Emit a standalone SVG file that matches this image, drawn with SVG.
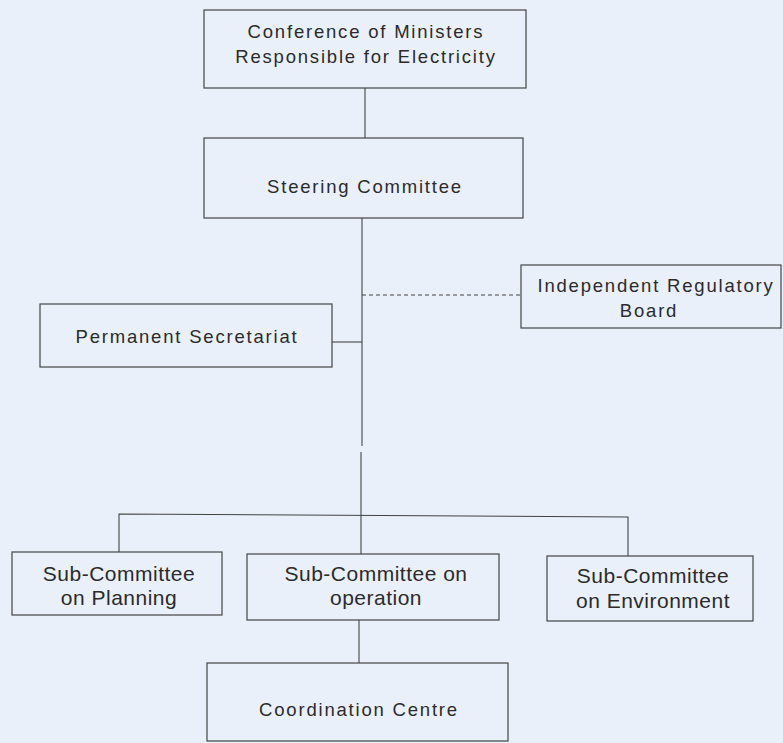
<svg xmlns="http://www.w3.org/2000/svg" width="783" height="743" viewBox="0 0 783 743">
  <style>
    .box { fill: none; stroke: #444; stroke-width: 1.2; }
    .link { fill: none; stroke: #444; stroke-width: 1.1; }
    .dash { stroke-dasharray: 4 3; }
    .lbl { font-family: "Liberation Sans", Arial, sans-serif; font-size: 18.5px; fill: #2b2b2b; text-anchor: middle; letter-spacing: 1.8px; }
    .sub { font-family: "Liberation Sans", Arial, sans-serif; font-size: 21px; fill: #2b2b2b; text-anchor: middle; letter-spacing: 0.5px; }
  </style>
  <rect width="783" height="743" fill="#e9f0fa"/>

  <g id="connectors">
    <line class="link" x1="365" y1="88" x2="365" y2="138"/>
    <line class="link" x1="362" y1="218" x2="362" y2="446"/>
    <line class="link" x1="361" y1="452" x2="361" y2="554"/>
    <line class="link dash" x1="362" y1="295" x2="521" y2="295"/>
    <line class="link" x1="332" y1="342" x2="362" y2="342"/>
    <polyline class="link" points="119,552 119,514 628,517 628,556"/>
    <line class="link" x1="359" y1="620" x2="359" y2="663"/>
  </g>

  <g id="ministers">
    <rect class="box" x="204" y="10" width="322" height="78"/>
    <text class="lbl" x="366" y="38">Conference of Ministers</text>
    <text class="lbl" x="366" y="63">Responsible for Electricity</text>
  </g>

  <g id="steering">
    <rect class="box" x="204" y="138" width="319" height="80"/>
    <text class="lbl" x="365" y="193">Steering Committee</text>
  </g>

  <g id="secretariat">
    <rect class="box" x="40" y="304" width="292" height="63"/>
    <text class="lbl" x="187" y="343">Permanent Secretariat</text>
  </g>

  <g id="regulatory">
    <rect class="box" x="521" y="265" width="260" height="63"/>
    <text class="lbl" x="656" y="292">Independent Regulatory</text>
    <text class="lbl" x="649" y="317">Board</text>
  </g>

  <g id="planning">
    <rect class="box" x="12" y="552" width="210" height="63"/>
    <text class="sub" x="119" y="581">Sub-Committee</text>
    <text class="sub" x="119" y="605">on Planning</text>
  </g>

  <g id="operation">
    <rect class="box" x="247" y="554" width="252" height="66"/>
    <text class="sub" x="376" y="581">Sub-Committee on</text>
    <text class="sub" x="376" y="605">operation</text>
  </g>

  <g id="environment">
    <rect class="box" x="547" y="556" width="206" height="65"/>
    <text class="sub" x="653" y="583">Sub-Committee</text>
    <text class="sub" x="653" y="608">on Environment</text>
  </g>

  <g id="coordination">
    <rect class="box" x="207" y="663" width="301" height="78"/>
    <text class="lbl" x="359" y="716">Coordination Centre</text>
  </g>
</svg>
